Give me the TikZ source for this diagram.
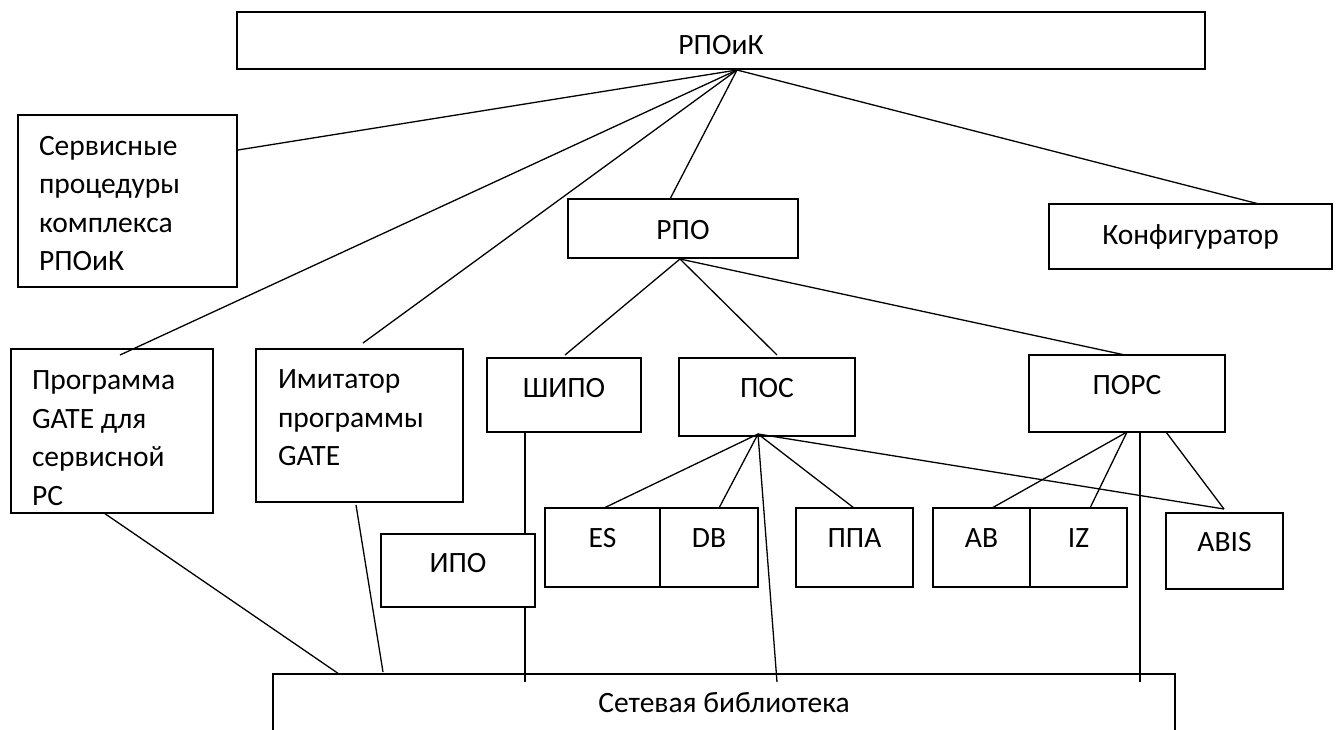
\documentclass[tikz,border=0pt]{standalone}
\usepackage{fontspec}
\setmainfont{Carlito}
\usetikzlibrary{calc}
\tikzset{
  box/.style={draw=black, line width=1.6pt, rectangle, inner sep=0pt, outer sep=0pt,
    anchor=north west, font=\fontsize{29.5}{38.5}\selectfont},
  conn/.style={draw=black, line width=1.3pt},
  txt/.style={anchor=north west, inner sep=0pt, outer sep=0pt, align=left,
    font=\fontsize{29.5}{38.5}\selectfont},
}
\begin{document}
\begin{tikzpicture}[x=1pt,y=-1pt]
\useasboundingbox (0,0) rectangle (1341,729);
\clip (0,0) rectangle (1341,729);

% single-line boxes
\node[box, minimum width=968pt, text height=42pt, text depth=15pt] (top) at (237,12) {РПОиК};
\node[box, minimum width=230pt, text height=40pt, text depth=19pt] (rpo) at (568,199) {РПО};
\node[box, minimum width=283pt, text height=40pt, text depth=25pt] (konf) at (1049,204) {Конфигуратор};
\node[box, minimum width=154pt, text height=39pt, text depth=35pt] (shipo) at (487,358) {ШИПО};
\node[box, minimum width=176pt, text height=39pt, text depth=39pt] (pos) at (679,358) {ПОС};
\node[box, minimum width=196pt, text height=39pt, text depth=38pt] (pors) at (1029,355) {ПОРС};
\node[box, fill=white, minimum width=154pt, text height=38pt, text depth=35pt] (ipo) at (381,534) {ИПО};
\node[box, minimum width=115pt, text height=39pt, text depth=40pt] (es) at (545,508) {ES};
\node[box, minimum width=98pt, text height=39pt, text depth=40pt] (db) at (660,508) {DB};
\node[box, minimum width=117pt, text height=39pt, text depth=40pt] (ppa) at (796,508) {ППА};
\node[box, minimum width=97pt, text height=39pt, text depth=40pt] (ab) at (933,508) {AB};
\node[box, minimum width=97pt, text height=39pt, text depth=40pt] (iz) at (1030,508) {IZ};
\node[box, minimum width=117pt, text height=38pt, text depth=38pt] (abis) at (1166,513) {ABIS};
\node[box, minimum width=902pt, text height=38pt, text depth=100pt] (lib) at (273,674) {Сетевая библиотека};

% multi-line boxes
\node[box, minimum width=219pt, minimum height=172pt] (serv) at (18,115) {};
\node[txt] (servtxt) at ($(serv.north west)+(21,21)$) {Сервисные\\процедуры\\комплекса\\РПОиК};
\node[box, minimum width=202pt, minimum height=164pt] (prog) at (11,349) {};
\node[txt] (progtxt) at ($(prog.north west)+(21,22)$) {Программа\\GATE для\\сервисной\\РС};
\node[box, minimum width=207pt, minimum height=153pt] (imit) at (256,349) {};
\node[txt] (imittxt) at ($(imit.north west)+(22,21)$) {Имитатор\\программы\\GATE};

% hubs
\coordinate (tophub) at (737,70);
\coordinate (rpohub) at (680,259);
\coordinate (poshub) at (758,434);

% connectors from РПОиК
\draw[conn] (tophub) -- ($(serv.north east)+(1,35)$);
\draw[conn] (tophub) -- ($(prog.north west)+(109,6)$);
\draw[conn] (tophub) -- ($(imit.north west)+(107,-6)$);
\draw[conn] (tophub) -- ($(rpo.north west)+(102,0)$);
\draw[conn] (tophub) -- ($(konf.north west)+(210,0)$);

% connectors from РПО
\draw[conn] (rpohub) -- ($(shipo.north west)+(78,-3)$);
\draw[conn] (rpohub) -- ($(pos.north west)+(98,-3)$);
\draw[conn] (rpohub) -- ($(pors.north west)+(96,0)$);

% connectors from ПОС
\draw[conn] (poshub) -- ($(es.north west)+(59,0)$);
\draw[conn] (poshub) -- ($(db.north west)+(59,0)$);
\draw[conn] (poshub) -- ($(ppa.north west)+(58,0)$);
\draw[conn] (poshub) -- ($(lib.north west)+(504,8)$);
\draw[conn] (poshub) -- ($(abis.north west)+(58,-4)$);

% connectors from ПОРС
\draw[conn] ($(pors.south west)+(98,0)$) -- ($(ab.north west)+(59,0)$);
\draw[conn] ($(pors.south west)+(98,0)$) -- ($(iz.north west)+(60,0)$);
\draw[conn] ($(pors.south west)+(137,0)$) -- ($(abis.north west)+(58,-4)$);
\draw[conn] ($(pors.south west)+(111,0)$) -- ($(lib.north west)+(867,8)$);

% ШИПО through ИПО to library
\draw[conn] ($(shipo.south west)+(38,0)$) -- ($(ipo.north west)+(144,0)$);
\draw[conn] ($(ipo.south west)+(144,0)$) -- ($(lib.north west)+(252,8)$);

% left boxes to library
\draw[conn] ($(prog.south west)+(93,0)$) -- ($(lib.north west)+(66,0)$);
\draw[conn] ($(imit.south west)+(100,3)$) -- ($(lib.north west)+(110,-2)$);
\end{tikzpicture}
\end{document}
